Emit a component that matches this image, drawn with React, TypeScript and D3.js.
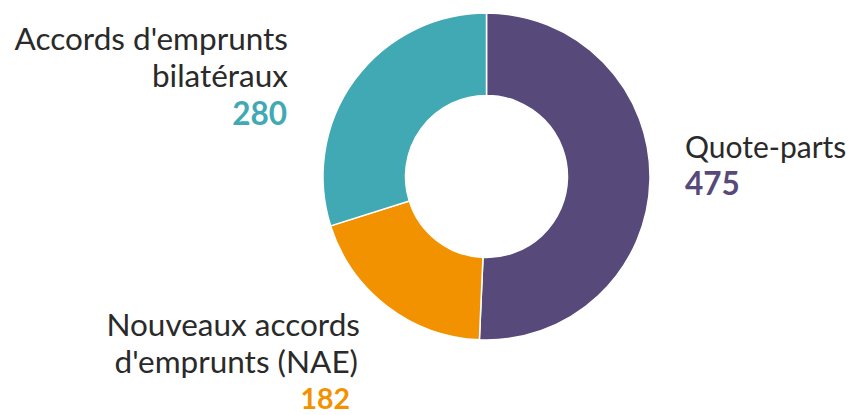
import React from "react";
import * as d3 from "d3";

const categories = ["Quote-parts", "Nouveaux accords d'emprunts (NAE)", "Accords d'emprunts bilatéraux"];
const values = [475, 182, 280];
const colors = ["#574a7b", "#f29200", "#40a9b4"];

const W = 849;
const H = 415;
const cx = 486.5;
const cy = 176.5;
const outerR = 163.5;
const innerR = 81;

export default function App() {
  const pie = d3.pie<number>().sort(null).value((d) => d);
  const arcs = pie(values);
  const arc = d3.arc<d3.PieArcDatum<number>>().innerRadius(innerR).outerRadius(outerR);
  const font = "Lato, 'Open Sans', sans-serif";
  const textColor = "#2a2a2a";
  return (
    <svg width={W} height={H} style={{ position: "absolute", left: 0, top: 0, background: "#fff" }}>
      <g transform={`translate(${cx},${cy})`}>
        {arcs.map((a, i) => (
          <path key={i} d={arc(a) || ""} fill={colors[i]} stroke="#fff" strokeWidth={1.5} />
        ))}
      </g>
      <g fontFamily={font} fontSize={31.5} fill={textColor}>
        <text x={288} y={50} textAnchor="end">Accords d'emprunts</text>
        <text x={288} y={87} textAnchor="end">bilatéraux</text>
        <text x={287} y={125} textAnchor="end" fontWeight={700} fill={colors[2]}>{values[2]}</text>

        <text x={360} y={336} textAnchor="end">Nouveaux accords</text>
        <text x={358} y={373} textAnchor="end">d'emprunts (NAE)</text>
        <text x={350} y={408.5} textAnchor="end" fontWeight={700} fontSize={28.5} fill={colors[1]}>{values[1]}</text>

        <text x={685} y={158} fontSize={30}>Quote-parts</text>
        <text x={685} y={195} fontWeight={700} fill={colors[0]}>{values[0]}</text>
      </g>
    </svg>
  );
}
